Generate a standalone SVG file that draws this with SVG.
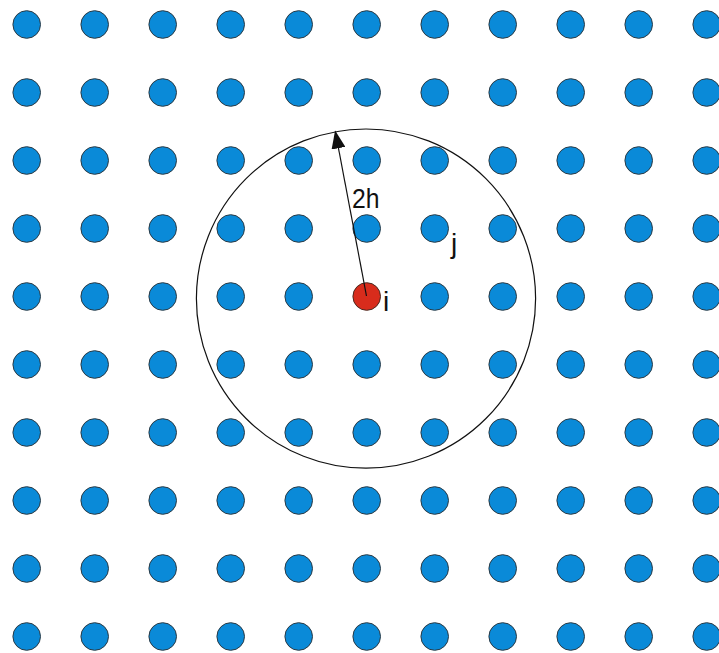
<svg xmlns="http://www.w3.org/2000/svg" xmlns:xlink="http://www.w3.org/1999/xlink" width="719" height="653" viewBox="0 0 719 653">
<style>
.p{fill:#0a8ad8;stroke:#2b3a44;stroke-width:1}
.r{fill:#d82c1c;stroke:#4a2a20;stroke-width:1}
.t{font-family:"Liberation Sans",Arial,sans-serif;font-size:28px;fill:#111}
.ln{fill:none;stroke:#111;stroke-width:1.2}
</style>
<defs>
<marker id="ah" viewBox="0 0 18 14" refX="17" refY="7" markerWidth="18" markerHeight="14" markerUnits="userSpaceOnUse" orient="auto">
<path d="M0,0 L18,7 L0,14 Z" fill="#111"/>
</marker>
</defs>
<rect width="719" height="653" fill="#fff"/>
<g id="particles">
<g id="r0"><circle class="p" cx="26.7" cy="24.5" r="13.8"/><circle class="p" cx="94.7" cy="24.5" r="13.8"/><circle class="p" cx="162.7" cy="24.5" r="13.8"/><circle class="p" cx="230.7" cy="24.5" r="13.8"/><circle class="p" cx="298.7" cy="24.5" r="13.8"/><circle class="p" cx="366.7" cy="24.5" r="13.8"/><circle class="p" cx="434.7" cy="24.5" r="13.8"/><circle class="p" cx="502.7" cy="24.5" r="13.8"/><circle class="p" cx="570.7" cy="24.5" r="13.8"/><circle class="p" cx="638.7" cy="24.5" r="13.8"/><circle class="p" cx="706.7" cy="24.5" r="13.8"/></g>
<g id="r1"><circle class="p" cx="26.7" cy="92.5" r="13.8"/><circle class="p" cx="94.7" cy="92.5" r="13.8"/><circle class="p" cx="162.7" cy="92.5" r="13.8"/><circle class="p" cx="230.7" cy="92.5" r="13.8"/><circle class="p" cx="298.7" cy="92.5" r="13.8"/><circle class="p" cx="366.7" cy="92.5" r="13.8"/><circle class="p" cx="434.7" cy="92.5" r="13.8"/><circle class="p" cx="502.7" cy="92.5" r="13.8"/><circle class="p" cx="570.7" cy="92.5" r="13.8"/><circle class="p" cx="638.7" cy="92.5" r="13.8"/><circle class="p" cx="706.7" cy="92.5" r="13.8"/></g>
<g id="r2"><circle class="p" cx="26.7" cy="160.5" r="13.8"/><circle class="p" cx="94.7" cy="160.5" r="13.8"/><circle class="p" cx="162.7" cy="160.5" r="13.8"/><circle class="p" cx="230.7" cy="160.5" r="13.8"/><circle class="p" cx="298.7" cy="160.5" r="13.8"/><circle class="p" cx="366.7" cy="160.5" r="13.8"/><circle class="p" cx="434.7" cy="160.5" r="13.8"/><circle class="p" cx="502.7" cy="160.5" r="13.8"/><circle class="p" cx="570.7" cy="160.5" r="13.8"/><circle class="p" cx="638.7" cy="160.5" r="13.8"/><circle class="p" cx="706.7" cy="160.5" r="13.8"/></g>
<g id="r3"><circle class="p" cx="26.7" cy="228.5" r="13.8"/><circle class="p" cx="94.7" cy="228.5" r="13.8"/><circle class="p" cx="162.7" cy="228.5" r="13.8"/><circle class="p" cx="230.7" cy="228.5" r="13.8"/><circle class="p" cx="298.7" cy="228.5" r="13.8"/><circle class="p" cx="366.7" cy="228.5" r="13.8"/><circle id="j" class="p" cx="434.7" cy="228.5" r="13.8"/><circle class="p" cx="502.7" cy="228.5" r="13.8"/><circle class="p" cx="570.7" cy="228.5" r="13.8"/><circle class="p" cx="638.7" cy="228.5" r="13.8"/><circle class="p" cx="706.7" cy="228.5" r="13.8"/></g>
<g id="r4"><circle class="p" cx="26.7" cy="296.5" r="13.8"/><circle class="p" cx="94.7" cy="296.5" r="13.8"/><circle class="p" cx="162.7" cy="296.5" r="13.8"/><circle class="p" cx="230.7" cy="296.5" r="13.8"/><circle class="p" cx="298.7" cy="296.5" r="13.8"/><circle class="p" cx="434.7" cy="296.5" r="13.8"/><circle class="p" cx="502.7" cy="296.5" r="13.8"/><circle class="p" cx="570.7" cy="296.5" r="13.8"/><circle class="p" cx="638.7" cy="296.5" r="13.8"/><circle class="p" cx="706.7" cy="296.5" r="13.8"/></g>
<g id="r5"><circle class="p" cx="26.7" cy="364.5" r="13.8"/><circle class="p" cx="94.7" cy="364.5" r="13.8"/><circle class="p" cx="162.7" cy="364.5" r="13.8"/><circle class="p" cx="230.7" cy="364.5" r="13.8"/><circle class="p" cx="298.7" cy="364.5" r="13.8"/><circle class="p" cx="366.7" cy="364.5" r="13.8"/><circle class="p" cx="434.7" cy="364.5" r="13.8"/><circle class="p" cx="502.7" cy="364.5" r="13.8"/><circle class="p" cx="570.7" cy="364.5" r="13.8"/><circle class="p" cx="638.7" cy="364.5" r="13.8"/><circle class="p" cx="706.7" cy="364.5" r="13.8"/></g>
<g id="r6"><circle class="p" cx="26.7" cy="432.5" r="13.8"/><circle class="p" cx="94.7" cy="432.5" r="13.8"/><circle class="p" cx="162.7" cy="432.5" r="13.8"/><circle class="p" cx="230.7" cy="432.5" r="13.8"/><circle class="p" cx="298.7" cy="432.5" r="13.8"/><circle class="p" cx="366.7" cy="432.5" r="13.8"/><circle class="p" cx="434.7" cy="432.5" r="13.8"/><circle class="p" cx="502.7" cy="432.5" r="13.8"/><circle class="p" cx="570.7" cy="432.5" r="13.8"/><circle class="p" cx="638.7" cy="432.5" r="13.8"/><circle class="p" cx="706.7" cy="432.5" r="13.8"/></g>
<g id="r7"><circle class="p" cx="26.7" cy="500.5" r="13.8"/><circle class="p" cx="94.7" cy="500.5" r="13.8"/><circle class="p" cx="162.7" cy="500.5" r="13.8"/><circle class="p" cx="230.7" cy="500.5" r="13.8"/><circle class="p" cx="298.7" cy="500.5" r="13.8"/><circle class="p" cx="366.7" cy="500.5" r="13.8"/><circle class="p" cx="434.7" cy="500.5" r="13.8"/><circle class="p" cx="502.7" cy="500.5" r="13.8"/><circle class="p" cx="570.7" cy="500.5" r="13.8"/><circle class="p" cx="638.7" cy="500.5" r="13.8"/><circle class="p" cx="706.7" cy="500.5" r="13.8"/></g>
<g id="r8"><circle class="p" cx="26.7" cy="568.5" r="13.8"/><circle class="p" cx="94.7" cy="568.5" r="13.8"/><circle class="p" cx="162.7" cy="568.5" r="13.8"/><circle class="p" cx="230.7" cy="568.5" r="13.8"/><circle class="p" cx="298.7" cy="568.5" r="13.8"/><circle class="p" cx="366.7" cy="568.5" r="13.8"/><circle class="p" cx="434.7" cy="568.5" r="13.8"/><circle class="p" cx="502.7" cy="568.5" r="13.8"/><circle class="p" cx="570.7" cy="568.5" r="13.8"/><circle class="p" cx="638.7" cy="568.5" r="13.8"/><circle class="p" cx="706.7" cy="568.5" r="13.8"/></g>
<g id="r9"><circle class="p" cx="26.7" cy="636.5" r="13.8"/><circle class="p" cx="94.7" cy="636.5" r="13.8"/><circle class="p" cx="162.7" cy="636.5" r="13.8"/><circle class="p" cx="230.7" cy="636.5" r="13.8"/><circle class="p" cx="298.7" cy="636.5" r="13.8"/><circle class="p" cx="366.7" cy="636.5" r="13.8"/><circle class="p" cx="434.7" cy="636.5" r="13.8"/><circle class="p" cx="502.7" cy="636.5" r="13.8"/><circle class="p" cx="570.7" cy="636.5" r="13.8"/><circle class="p" cx="638.7" cy="636.5" r="13.8"/><circle class="p" cx="706.7" cy="636.5" r="13.8"/></g>
</g>
<g id="particle-i"><circle class="r" cx="366.7" cy="296.5" r="13.8"/></g>
<g id="support-circle"><circle class="ln" cx="366" cy="298.6" r="169.6"/></g>
<g id="connectors">
<line class="ln" x1="366.5" y1="296" x2="335.3" y2="131.5" marker-end="url(#ah)"/>
</g>
<g id="labels">
<text class="t" x="352" y="208.3" textLength="27.5" lengthAdjust="spacingAndGlyphs">2h</text>
<text class="t" x="451" y="253.4">j</text>
<text class="t" x="383" y="310.5">i</text>
</g>
</svg>
